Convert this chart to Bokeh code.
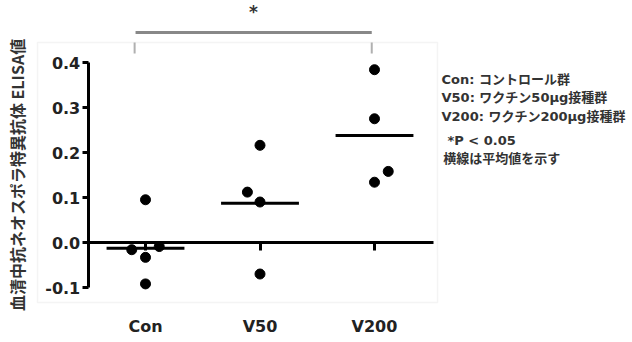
from bokeh.plotting import figure
from bokeh.models import LinearAxis, FixedTicker, BoxAnnotation, Range1d
from bokeh.core.properties import value
from bokeh.embed import file_html
from bokeh.resources import INLINE

# ---- data ----
categories = ["Con", "V50", "V200"]
cat_pos = [1, 2, 3]
con_x = [1.0, 0.88, 1.12, 1.0, 1.0]
con_y = [0.095, -0.016, -0.009, -0.033, -0.092]
v50_x = [2.0, 1.89, 2.0, 2.0]
v50_y = [0.216, 0.112, 0.090, -0.070]
v200_x = [3.0, 3.0, 3.12, 3.0]
v200_y = [0.384, 0.275, 0.158, 0.134]
group_means = [-0.013, 0.087, 0.238]
y_ticks = [-0.1, 0.0, 0.1, 0.2, 0.3, 0.4]
y_tick_labels = ["-0.1", "0.0", "0.1", "0.2", "0.3", "0.4"]
y_title = "血清中抗ネオスポラ特異抗体 ELISA値"
notes = ["Con: コントロール群", "V50: ワクチン50μg接種群", "V200: ワクチン200μg接種群",
         "*P < 0.05", "横線は平均値を示す"]
sig_label = "*"

# ---- layout helpers ----
mean_half = 0.34
note_x = [3.585, 3.585, 3.585, 3.637, 3.60]
note_y = [0.362, 0.322, 0.280, 0.227, 0.187]
box_l, box_r, box_t, box_b = 0.0568, 3.5502, 0.4444, -0.1333

p = figure(width=632, height=342, x_range=Range1d(-0.2664, 5.2533),
           y_range=Range1d(-0.2222, 0.5378), output_backend="svg",
           toolbar_location=None, x_axis_type=None, y_axis_type=None,
           min_border=0, outline_line_color=None)
p.xgrid.visible = False
p.ygrid.visible = False

# light grey frame box
p.add_layout(BoxAnnotation(left=box_l, right=box_r, top=box_t, bottom=box_b,
                           fill_color=None, line_color="#d9d9d9", line_width=1.5,
                           level="underlay"))

# y axis
yax = LinearAxis(fixed_location=0.5, bounds=(y_ticks[0], y_ticks[-1]),
                 ticker=FixedTicker(ticks=y_ticks),
                 major_label_overrides=dict(zip(y_ticks, y_tick_labels)),
                 axis_line_width=3, major_tick_line_width=3, major_tick_out=6,
                 major_tick_in=0, minor_tick_line_color=None, major_label_standoff=2,
                 major_label_text_font="DejaVu Sans", major_label_text_font_style="bold",
                 major_label_text_font_size="16px", major_label_text_color="#222222",
                 axis_label=y_title, axis_label_text_font="Noto Sans CJK JP",
                 axis_label_text_font_style="bold", axis_label_text_font_size="16px",
                 axis_label_text_color="#333333", axis_label_standoff=14)
p.add_layout(yax, "left")

# x axis at zero (line + ticks) with category labels pushed down to the bottom
xax = LinearAxis(fixed_location=0, bounds=(0.5, 3.515),
                 ticker=FixedTicker(ticks=cat_pos),
                 major_label_overrides=dict(zip(cat_pos, categories)),
                 axis_line_width=3, major_tick_out=8, major_tick_in=0,
                 major_tick_line_width=3, minor_tick_line_color=None,
                 major_label_standoff=66,
                 major_label_text_font="DejaVu Sans", major_label_text_font_style="bold",
                 major_label_text_font_size="16px", major_label_text_color="#222222")
p.add_layout(xax, "below")

# points
all_x = con_x + v50_x + v200_x
all_y = con_y + v50_y + v200_y
p.scatter(all_x, all_y, size=10, color="black")

# mean lines
p.segment(x0=[c - mean_half for c in cat_pos], x1=[c + mean_half for c in cat_pos],
          y0=group_means, y1=group_means, line_color="black", line_width=3)

# significance bracket
br_y = 0.4667
p.line([cat_pos[0] - 0.087, cat_pos[2] - 0.024], [br_y, br_y], line_color="#888888", line_width=3)
p.segment(x0=[cat_pos[0] - 0.095, cat_pos[2] - 0.024], x1=[cat_pos[0] - 0.095, cat_pos[2] - 0.024],
          y0=[box_t, box_t], y1=[0.42, 0.42], line_color="#b0b0b0", line_width=2)
p.text(x=[1.943], y=[0.512], text=[sig_label], text_font=value("DejaVu Sans"),
       text_font_style="bold", text_font_size="17px", text_color="#333333",
       text_align="center", text_baseline="middle")

# notes
p.text(x=note_x, y=note_y, text=notes,
       text_font=value("DejaVu Sans, Noto Sans CJK JP"), text_font_style="bold",
       text_font_size="13px", text_color="#333333", text_align="left",
       text_baseline="middle")

open("out.html", "w").write(file_html(p, INLINE))
